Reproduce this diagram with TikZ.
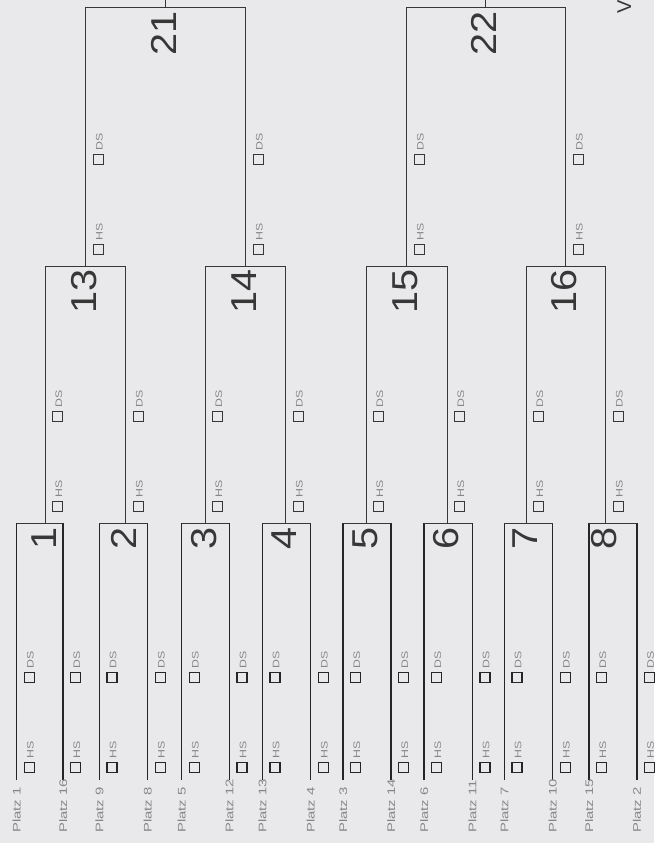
\documentclass[tikz,border=0pt]{standalone}
\usepackage{fontspec}
\setmainfont{Liberation Sans}
\usepackage{graphicx}
\definecolor{bg}{RGB}{233,233,236}
\definecolor{ln}{RGB}{55,55,55}
\definecolor{txt}{RGB}{135,135,138}
\begin{document}
\begin{tikzpicture}[x=1pt,y=-1pt,
  bline/.style={draw=ln, line width=0.9pt},
  pline/.style={draw=black!85, line width=1.4pt},
  platz/.style={rotate=90, anchor=base west, inner sep=0pt, text=txt, font=\fontsize{11}{11}\selectfont},
  chk/.style={draw=ln, line width=0.9pt, minimum size=10pt, inner sep=0pt, anchor=south west},
  pchk/.style={line width=1.2pt, draw=black!85},
  hsds/.style={rotate=90, anchor=base west, inner sep=0pt, text=txt, font=\fontsize{9.5}{9.5}\selectfont},
  mnum/.style={rotate=90, anchor=base east, inner sep=0pt, text=ln, font=\fontsize{36}{36}\selectfont}
]
\useasboundingbox (0,0) rectangle (654,843);
\fill[bg] (0,0) rectangle (654,843);

% ---------- round 1 ----------
\foreach \i/\L/\R/\C/\a/\b in {1/16.5/63/45/1/16, 2/99.3/147.7/125.5/9/8, 3/181.7/229.3/205/5/12, 4/262.3/310.5/285.7/13/4, 5/343/391/366/3/14, 6/424/472.3/447.2/6/11, 7/504.3/552.5/526/7/10, 8/589/636.8/605.7/15/2} {
  \coordinate (pl\i) at (\L,780);
  \coordinate (pr\i) at (\R,780);
  \coordinate (tl\i) at (\L,523);
  \coordinate (tr\i) at (\R,523);
  \coordinate (o\i) at (\C,523);
  \draw[pline] (pl\i) -- (tl\i);
  \draw[pline] (pr\i) -- (tr\i);
  \draw[bline] (tl\i) -- (tr\i);
  \node[platz] (pa\i) at (\L+4,833) {\scalebox{1.35}[1]{Platz \a}};
  \node[platz] (pb\i) at (\R+4,833) {\scalebox{1.35}[1]{Platz \b}};
  \node[mnum] (n\i) at (\C+11,527) {\scalebox{1.1}[1]{\i}};
}

% ---------- round 2 ----------
\foreach \j/\a/\b/\C in {13/1/2/85.7, 14/3/4/245.7, 15/5/6/406.7, 16/7/8/565.7} {
  \path (o\a) ++(0,-257) coordinate (ql\j);
  \path (o\b) ++(0,-257) coordinate (qr\j);
  \coordinate (q\j) at (\C,266);
  \draw[bline] (o\a) -- (ql\j) -- (qr\j) -- (o\b);
  \node[mnum] (n\j) at (\C+11,269) {\scalebox{1.1}[1]{\j}};
}

% ---------- round 3 ----------
\foreach \j/\a/\b/\C in {21/13/14/165.7, 22/15/16/485.7} {
  \path (q\a) ++(0,-259) coordinate (rl\j);
  \path (q\b) ++(0,-259) coordinate (rr\j);
  \coordinate (r\j) at (\C,7);
  \coordinate (rt\j) at (\C,-1);
  \draw[bline] (q\a) -- (rl\j) -- (rr\j) -- (q\b);
  \draw[bline] (r\j) -- (rt\j);
  \node[mnum] (n\j) at (\C+11,11) {\scalebox{1.1}[1]{\j}};
}

% ---------- HS / DS boxes ----------
\foreach \x [count=\k] in {16.5,63,99.3,147.7,181.7,229.3,262.3,310.5,343,391,424,472.3,504.3,552.5,589,636.8} {
  \node[chk,pchk] (bh1-\k) at (\x+7,773) {};
  \node[hsds] (th1-\k) at (\x+17,759) {\scalebox{1.3}[1]{HS}};
  \node[chk,pchk] (bd1-\k) at (\x+7,683) {};
  \node[hsds] (td1-\k) at (\x+17,669) {\scalebox{1.3}[1]{DS}};
}
\foreach \x [count=\k] in {45,125.5,205,285.7,366,447.2,526,605.7} {
  \node[chk] (bh2-\k) at (\x+7,512) {};
  \node[hsds] (th2-\k) at (\x+17,498) {\scalebox{1.3}[1]{HS}};
  \node[chk] (bd2-\k) at (\x+7,422) {};
  \node[hsds] (td2-\k) at (\x+17,408) {\scalebox{1.3}[1]{DS}};
}
\foreach \x [count=\k] in {85.7,245.7,406.7,565.7} {
  \node[chk] (bh3-\k) at (\x+7,255) {};
  \node[hsds] (th3-\k) at (\x+17,241) {\scalebox{1.3}[1]{HS}};
  \node[chk] (bd3-\k) at (\x+7,165) {};
  \node[hsds] (td3-\k) at (\x+17,151) {\scalebox{1.3}[1]{DS}};
}

% ---------- cut-off heading ----------
\node[rotate=90, anchor=base west, inner sep=0pt, text=ln, font=\fontsize{20}{20}\selectfont] (vh) at (631,14) {V};
\end{tikzpicture}
\end{document}
